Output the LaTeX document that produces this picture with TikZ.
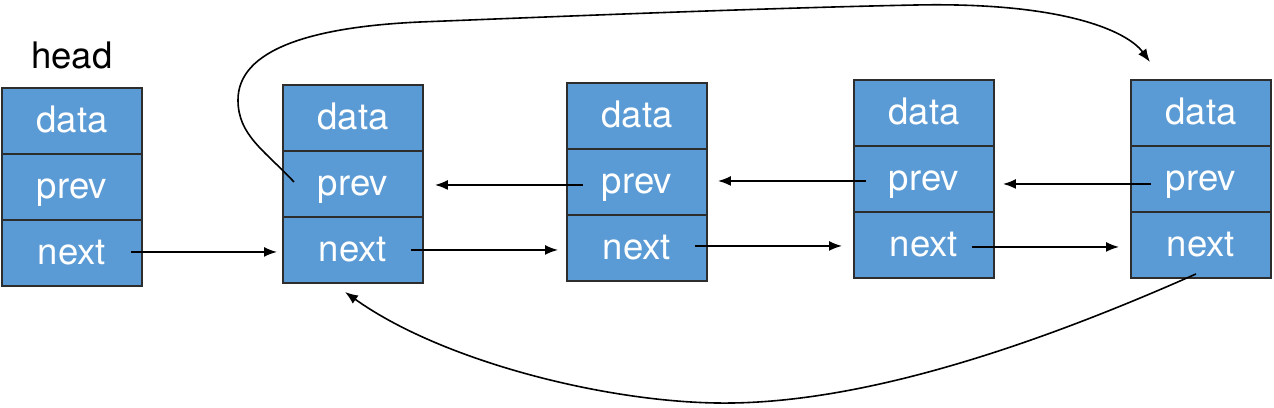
\documentclass[tikz,border=0pt]{standalone}
\usepackage{fontspec}
\newfontfamily\helv{TeX Gyre Heros}
\usetikzlibrary{positioning,arrows.meta}
\definecolor{cellblue}{RGB}{91,155,213}
\definecolor{edgegray}{RGB}{45,45,45}
\tikzset{
  cell/.style={draw=edgegray,line width=0.04cm,fill=cellblue,text=white,
    font=\helv\fontsize{20.8}{23}\selectfont,minimum width=2.8cm,minimum height=1.32cm,
    inner sep=0pt,outer sep=0pt,text height=0.48cm,text depth=0pt},
  link/.style={line width=0.032cm,-{Latex[length=0.26cm,width=0.2cm]}}
}
\begin{document}
\begin{tikzpicture}[x=0.02cm,y=-0.02cm]
\useasboundingbox (0,0) rectangle (1274,408);

\foreach \i/\x/\y in {1/2/88,2/283/85,3/567/83,4/854/80,5/1131/80}{
\node[cell,anchor=north west] (d\i) at (\x,\y) {data};
\node[cell,below=0pt of d\i] (p\i) {prev};
\node[cell,below=0pt of p\i] (n\i) {next};
}
\node[anchor=base,font=\helv\fontsize{20.8}{23}\selectfont] (head) at ([shift={(0,-19)}]d1.north) {head};

\draw[link] ([shift={(59,-1)}]n1.center) -- ([shift={(-6,2)}]n2.west);
\draw[link] ([shift={(58,0)}]n2.center) -- ([shift={(-9,2)}]n3.west);
\draw[link] ([shift={(58,-2)}]n3.center) -- ([shift={(-12,1)}]n4.west);
\draw[link] ([shift={(48,2)}]n4.center) -- ([shift={(-12,2)}]n5.west);

\draw[link] ([shift={(-54,3)}]p3.center) -- ([shift={(12,1)}]p2.east);
\draw[link] ([shift={(-58,2)}]p4.center) -- ([shift={(11,-1)}]p3.east);
\draw[link] ([shift={(20,5)}]p5.west) -- ([shift={(9,5)}]p4.east);

\draw[link] ([shift={(11,-2)}]p2.west) .. controls +(-30,-32) and +(0,35) .. (238,100)
  .. controls +(0,-50) and +(-110,5) .. (420,22)
  .. controls +(150,-6) and +(-150,3) .. (916,5)
  .. controls +(150,-3) and +(-22,-30) .. ([shift={(-51,-18)}]d5.north);
\draw[link] ([shift={(-5,-4)}]n5.south) .. controls +(-196,87) and +(124,2) .. (716,403)
  .. controls +(-116,-2) and +(95,68) .. ([shift={(-8,9)}]n2.south);
\end{tikzpicture}
\end{document}
